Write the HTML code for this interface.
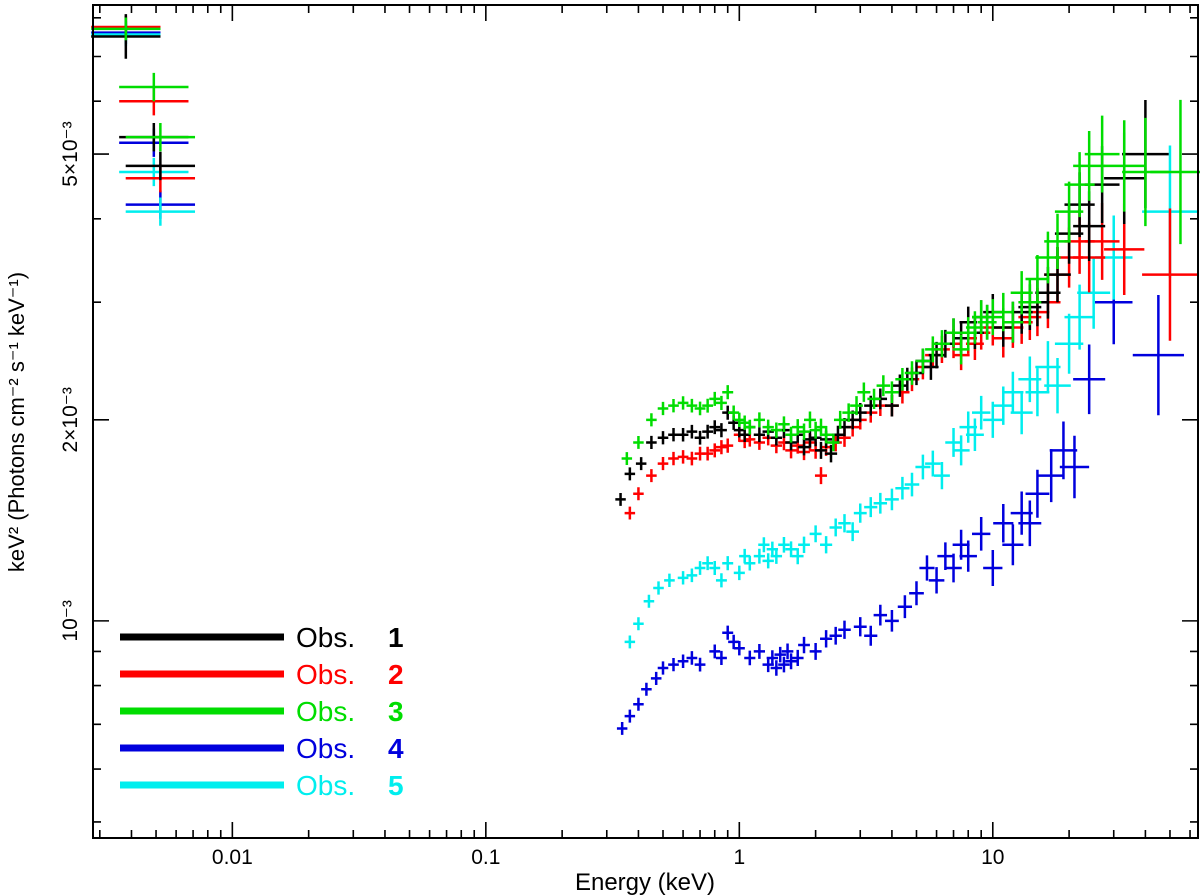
<!DOCTYPE html>
<html><head><meta charset="utf-8"><style>
html,body{margin:0;padding:0;background:#fff;width:1200px;height:896px;overflow:hidden}
svg text{font-family:"Liberation Sans",sans-serif}
</style></head><body>
<svg id="chart" width="1200" height="896" xmlns="http://www.w3.org/2000/svg">
<g id="marks"></g>
<g id="axes"></g>
<text x="645" y="890" font-size="24" text-anchor="middle">Energy (keV)</text>
<text transform="translate(24,422) rotate(-90)" font-size="22" text-anchor="middle">keV² (Photons cm⁻² s⁻¹ keV⁻¹)</text>
<g id="legend"></g>
</svg>
<script>
// Energies (keV) and keV^2 flux values (units of 1e-3)
const e1=[0.0038,0.0049,0.0052,0.34,0.37,0.41,0.45,0.5,0.55,0.6,0.65,0.7,0.75,0.8,0.85,0.9,0.95,1.0,1.05,1.1,1.2,1.3,1.4,1.5,1.6,1.7,1.8,1.9,2.0,2.1,2.2,2.3,2.45,2.6,2.8,3.0,3.3,3.6,4.0,4.3,4.6,5.0,5.3,5.7,6.0,6.5,7.0,7.5,8.0,8.5,9.0,9.5,10,11,12,13,14,15,16.5,18,20,22,24,27,33,40];
const v1=[7.5,5.3,4.8,1.52,1.66,1.72,1.85,1.88,1.9,1.9,1.92,1.88,1.92,1.95,1.93,2.05,1.98,1.93,1.9,1.95,1.9,1.92,1.88,1.93,1.85,1.9,1.82,1.87,1.88,1.8,1.87,1.78,1.9,1.95,2.0,2.05,2.1,2.15,2.1,2.25,2.3,2.35,2.45,2.4,2.5,2.6,2.7,2.65,2.8,2.7,2.85,2.8,2.9,2.75,2.8,2.9,2.95,3.0,3.1,3.3,3.8,4.2,3.9,4.5,4.6,5.0];
const e2=[0.0038,0.0049,0.0052,0.37,0.4,0.45,0.5,0.55,0.6,0.65,0.7,0.75,0.8,0.85,0.9,1.0,1.05,1.1,1.2,1.3,1.4,1.5,1.6,1.7,1.8,1.9,2.0,2.1,2.2,2.4,2.6,2.8,3.0,3.3,3.6,4.0,4.4,4.8,5.3,5.8,6.3,7.0,7.5,8.0,8.5,9.0,10,11,12,13,14,15,16.5,18,20,22,24,27,33,50];
const v2=[7.75,6.0,4.6,1.45,1.55,1.65,1.72,1.75,1.76,1.75,1.78,1.78,1.8,1.82,1.83,1.9,1.86,1.87,1.85,1.88,1.83,1.85,1.8,1.83,1.79,1.85,1.8,1.65,1.82,1.85,1.88,1.95,2.0,2.05,2.1,2.1,2.2,2.3,2.4,2.5,2.55,2.6,2.5,2.65,2.6,2.7,2.75,2.65,2.75,2.8,2.85,2.9,3.0,3.3,3.5,3.7,3.5,3.7,3.6,3.3];
const e3=[0.0038,0.0049,0.0052,0.36,0.4,0.45,0.5,0.55,0.6,0.65,0.7,0.75,0.8,0.85,0.9,0.95,1.0,1.05,1.1,1.2,1.3,1.4,1.5,1.6,1.7,1.8,1.9,2.0,2.1,2.2,2.35,2.5,2.7,2.9,3.1,3.4,3.7,4.0,4.4,4.8,5.3,5.8,6.3,7.0,7.5,8.0,8.5,9.0,9.5,10,11,12,13,14,15,16.5,18,20,22,24,27,33,40,55];
const v3=[7.7,6.3,5.3,1.75,1.85,2.0,2.08,2.1,2.12,2.1,2.08,2.1,2.15,2.12,2.2,2.05,2.0,1.98,1.95,2.0,1.95,1.93,1.97,1.9,1.95,1.92,2.0,1.93,1.95,1.9,1.85,2.0,2.05,2.1,2.2,2.15,2.25,2.2,2.3,2.35,2.45,2.55,2.6,2.7,2.55,2.7,2.75,2.85,2.8,2.85,2.9,2.8,3.1,3.0,3.25,3.5,3.7,4.1,4.5,4.8,5.0,4.8,4.7,4.7];
const e4=[0.0038,0.0049,0.0052,0.345,0.37,0.4,0.43,0.47,0.5,0.55,0.6,0.65,0.7,0.8,0.85,0.9,0.95,1.0,1.1,1.2,1.3,1.35,1.4,1.45,1.5,1.55,1.6,1.7,1.8,2.0,2.2,2.4,2.6,3.0,3.3,3.6,4.0,4.5,5.0,5.5,6.0,6.5,7.0,7.5,8.0,9.0,10,11,12,13,14,15,17,19,21,24,30,45];
const v4=[7.6,5.2,4.2,0.69,0.72,0.75,0.79,0.82,0.85,0.86,0.87,0.88,0.86,0.9,0.88,0.96,0.93,0.91,0.88,0.9,0.86,0.88,0.85,0.89,0.86,0.9,0.87,0.88,0.92,0.9,0.94,0.95,0.97,0.98,0.95,1.02,1.0,1.05,1.1,1.2,1.15,1.25,1.2,1.3,1.25,1.35,1.2,1.4,1.3,1.45,1.4,1.55,1.65,1.8,1.7,2.3,3.0,2.5];
const e5=[0.0038,0.0049,0.0052,0.37,0.4,0.44,0.48,0.53,0.6,0.65,0.7,0.75,0.8,0.85,0.9,1.0,1.05,1.1,1.2,1.25,1.3,1.35,1.4,1.5,1.6,1.7,1.8,2.0,2.2,2.4,2.6,2.8,3.0,3.3,3.6,4.0,4.4,4.8,5.3,5.8,6.3,7.0,7.5,8.0,8.5,9.0,10,11,12,13,14,15,16.5,18,20,22,25,30,50];
const v5=[7.55,4.7,4.1,0.93,0.99,1.07,1.12,1.15,1.16,1.17,1.2,1.22,1.2,1.15,1.22,1.18,1.25,1.22,1.25,1.3,1.23,1.28,1.25,1.3,1.28,1.25,1.3,1.35,1.3,1.38,1.4,1.36,1.45,1.48,1.5,1.52,1.58,1.6,1.7,1.72,1.65,1.85,1.8,1.95,1.9,2.05,2.0,2.1,2.2,2.05,2.3,2.2,2.4,2.25,2.6,2.85,3.1,3.5,4.1];
const seriesColors=["#000000","#ff0000","#00dd00","#0000dd","#00eeee"];
const seriesLabels=["Obs.","Obs.","Obs.","Obs.","Obs."];
const seriesNums=["1","2","3","4","5"];
const xTickLabels=["0.01","0.1","1","10"];
const xTickValues=[0.01,0.1,1,10];
const yTickLabels=["10⁻³","2×10⁻³","5×10⁻³"];
const yTickValues=[1,2,5];

const NS="http://www.w3.org/2000/svg";
const L=93,R=1198,T=5,B=838;
const xMin=Math.log10(0.00282),xMax=Math.log10(64.5);
const yMin=Math.log10(0.473),yMax=Math.log10(8.36);
function xs(e){return L+(Math.log10(e)-xMin)/(xMax-xMin)*(R-L);}
function ys(v){return B-(Math.log10(v)-yMin)/(yMax-yMin)*(B-T);}
function el(tag,attrs,parent){const n=document.createElementNS(NS,tag);for(const k in attrs)n.setAttribute(k,attrs[k]);parent.appendChild(n);return n;}

const marks=document.getElementById('marks');
const allE=[e1,e2,e3,e4,e5],allV=[v1,v2,v3,v4,v5];
const order=[3,4,1,0,2];
order.forEach(s=>{
  const g=el('g',{},marks);
  
  
  allE[s].forEach((e,i)=>{
    const v=allV[s][i];
    let fx,fy;
    if(e<0.01){fx=1.37;fy=(e<0.0045)?(s==0?1.08:1.04):1.05;}
    else{fx=Math.pow(10,0.02+0.0018*e);fy=Math.pow(10,0.009+0.0018*e);}
    const p=el('path',{d:`M${xs(e/fx)},${ys(v)}H${xs(e*fx)}M${xs(e)},${ys(v/fy)}V${ys(v*fy)}`,stroke:seriesColors[s],'stroke-width':2.5,fill:'none'},g);
    
    
  });
});

const ax=document.getElementById('axes');
el('rect',{x:L,y:T,width:R-L,height:B-T,fill:'none',stroke:'#000','stroke-width':2},ax);
for(let d=-3;d<=1;d++)for(let m=1;m<10;m++){
  const e=m*Math.pow(10,d);if(e<0.00282||e>64.5)continue;
  const x=xs(e),len=m==1?16:8;
  el('path',{d:`M${x},${B}v${-len}M${x},${T}v${len}`,stroke:'#000','stroke-width':1.6},ax);
}
xTickValues.forEach((e,i)=>{const t=el('text',{x:xs(e),y:864,'font-size':21,'text-anchor':'middle'},ax);t.textContent=xTickLabels[i];
});
for(let m=5;m<=9;m++){const y=ys(m/10);el('path',{d:`M${L},${y}h8M${R},${y}h-8`,stroke:'#000','stroke-width':1.6},ax);}
for(let m=1;m<=8;m++){const y=ys(m),len=(m==1||m==2||m==5)?16:8;el('path',{d:`M${L},${y}h${len}M${R},${y}h${-len}`,stroke:'#000','stroke-width':1.6},ax);}
yTickValues.forEach((v,i)=>{const t=el('text',{transform:`translate(77,${ys(v)}) rotate(-90)`,'font-size':21,'text-anchor':'middle'},ax);t.textContent=yTickLabels[i];
});

const lg=document.getElementById('legend');
seriesColors.forEach((c,i)=>{
  const y=637+i*37;
  const g=el('g',{},lg);
  
  
  el('line',{x1:120,x2:284,y1:y,y2:y,stroke:c,'stroke-width':7},g);
  const t=el('text',{x:296,y:y+10,'font-size':28,fill:c},g);t.textContent=seriesLabels[i];
  const n=el('text',{x:388,y:y+10,'font-size':28,fill:c,'font-weight':'bold'},g);n.textContent=seriesNums[i];
});
</script>
</body></html>
